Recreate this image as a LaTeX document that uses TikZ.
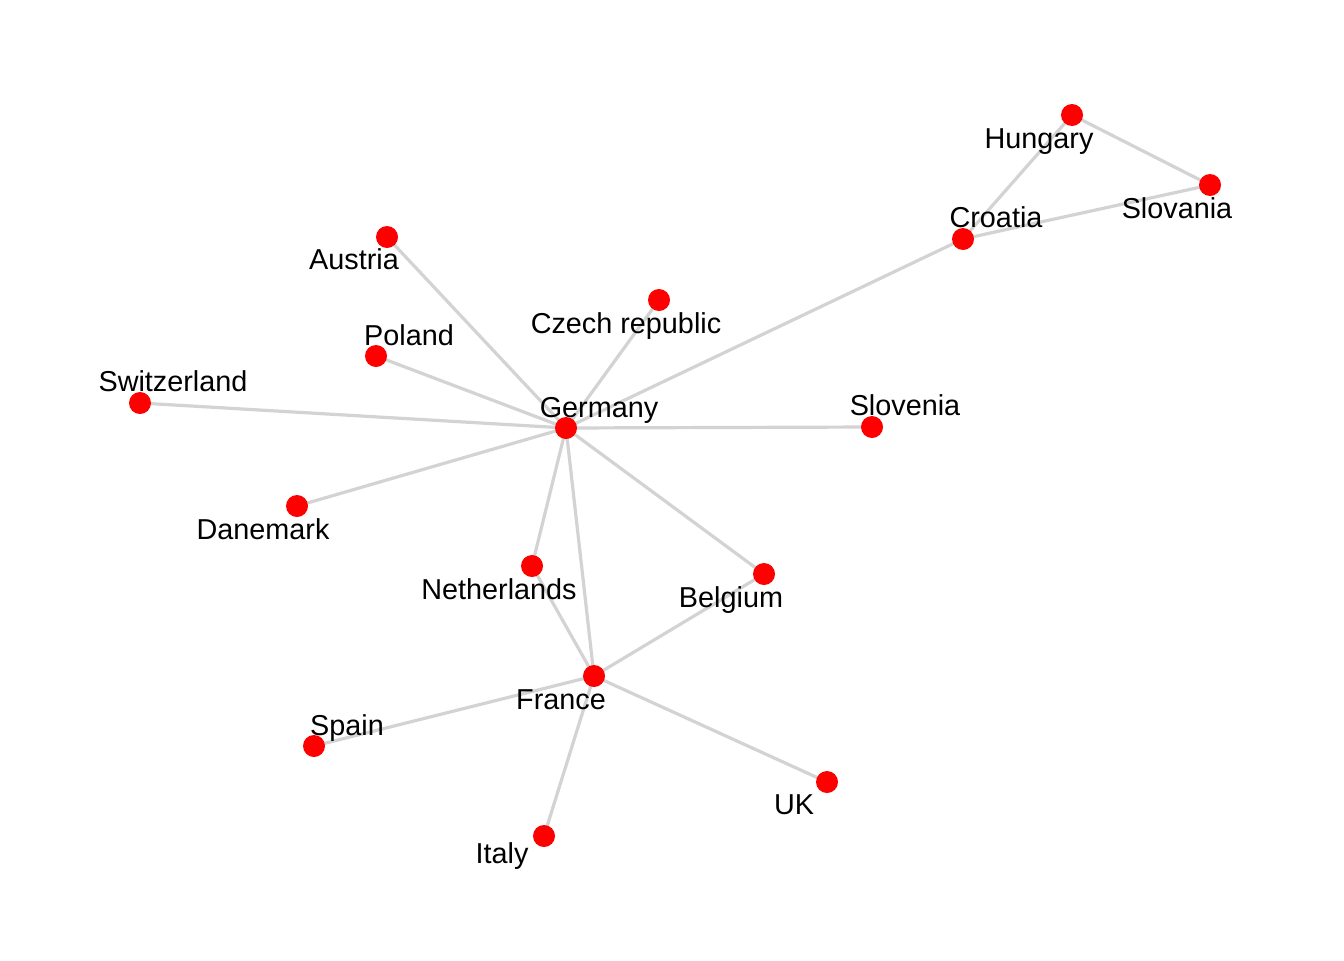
\documentclass[tikz,border=0pt]{standalone}
\usepackage{fontspec}
\setmainfont{Liberation Sans}
\usetikzlibrary{backgrounds}
\definecolor{edgegray}{HTML}{D3D3D3}
\begin{document}
\begin{tikzpicture}[x=0.75pt,y=-0.75pt,
  country/.style={circle,fill=red,draw=none,minimum size=16.5pt,inner sep=0pt},
  lbl/.style={anchor=base,inner sep=0pt,font=\fontsize{21.6}{25}\selectfont},
  edge/.style={draw=edgegray,line width=2.4pt}]
\useasboundingbox (0,0) rectangle (1344,960);
% nodes
\node[country] (hun) at (1072,115) {};
\node[country] (slk) at (1210,185) {};
\node[country] (cro) at (963,239) {};
\node[country] (aut) at (387,237) {};
\node[country] (cze) at (659,300) {};
\node[country] (pol) at (376,356) {};
\node[country] (swi) at (140,403) {};
\node[country] (ger) at (566,428) {};
\node[country] (slo) at (872,427) {};
\node[country] (den) at (297,506) {};
\node[country] (net) at (532,566) {};
\node[country] (bel) at (764,574) {};
\node[country] (fra) at (594,676) {};
\node[country] (spa) at (314,746) {};
\node[country] (uk) at (827,782) {};
\node[country] (ita) at (544,836) {};
% edges
\begin{scope}[on background layer]
\foreach \a/\b in {hun/slk,hun/cro,cro/slk,cro/ger,aut/ger,cze/ger,pol/ger,swi/ger,den/ger,slo/ger,net/ger,bel/ger,fra/ger,net/fra,bel/fra,spa/fra,ita/fra,uk/fra}
  \draw[edge] (\a.center) -- (\b.center);
\end{scope}
% labels
\node[lbl] (lhun) at (1039,148) {Hungary};
\node[lbl] (lslk) at (1177,218) {Slovania};
\node[lbl] (lcro) at (996,227) {Croatia};
\node[lbl] (laut) at (354,269) {Austria};
\node[lbl] (lcze) at (626,333) {Czech republic};
\node[lbl] (lpol) at (409,345) {Poland};
\node[lbl] (lswi) at (173,391) {Switzerland};
\node[lbl] (lger) at (599,417) {Germany};
\node[lbl] (lslo) at (905,415) {Slovenia};
\node[lbl] (lden) at (263,539) {Danemark};
\node[lbl] (lnet) at (499,599) {Netherlands};
\node[lbl] (lbel) at (731,607) {Belgium};
\node[lbl] (lfra) at (561,709) {France};
\node[lbl] (lspa) at (347,735) {Spain};
\node[lbl] (luk) at (794,814) {UK};
\node[lbl] (lita) at (502,863) {Italy};
\end{tikzpicture}
\end{document}
